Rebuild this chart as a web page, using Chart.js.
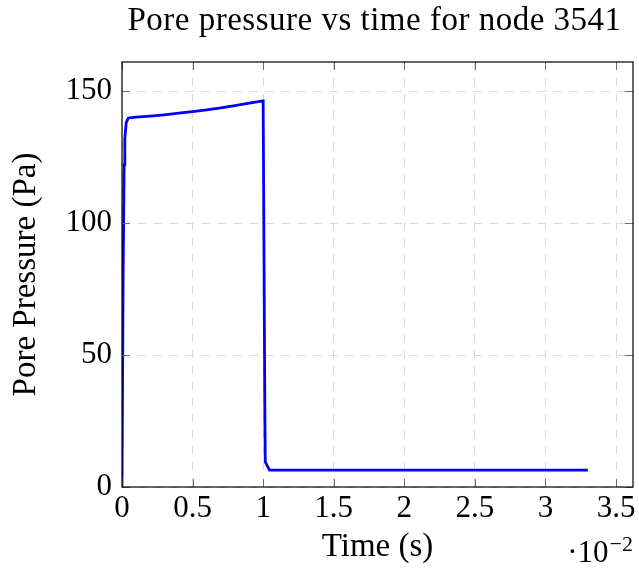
<!DOCTYPE html>
<html>
<head>
<meta charset="utf-8">
<script src="https://cdn.jsdelivr.net/npm/chart.js@4/dist/chart.umd.min.js"></script>
<style>
  html, body { margin: 0; padding: 0; background: #fff; }
  #wrap { width: 639px; height: 571px; }
</style>
</head>
<body>
<div id="wrap"><canvas id="chart"></canvas></div>
<script>
// time in units of 1e-2 s, pressure in Pa
const timeE2 = [0, 0.008, 0.015, 0.02, 0.03, 0.045, 0.1, 0.2, 0.3, 0.4, 0.5, 0.6, 0.7, 0.8, 0.9, 1.0,
  1.012, 1.015, 1.045, 1.5, 2.0, 2.5, 3.0, 3.3];
const pressure = [0, 80, 122, 132, 138, 139.8, 140.1, 140.5, 141.0, 141.6, 142.2, 142.9, 143.6, 144.5, 145.4, 146.3,
  28, 9.5, 6.4, 6.4, 6.4, 6.4, 6.4, 6.4];
const xTicks = [0, 0.5, 1, 1.5, 2, 2.5, 3, 3.5];
const yTicks = [0, 50, 100, 150];
const titleText = 'Pore pressure vs time for node 3541';

const FONT = "'Liberation Serif', 'Times New Roman', serif";
Chart.defaults.font.family = FONT;
Chart.defaults.color = '#000';

const frame = {
  id: 'frame',
  afterDraw(chart) {
    const { ctx, chartArea: a, scales: { x, y } } = chart;
    ctx.save();
    // inner tick marks, pgfplots style
    ctx.strokeStyle = '#6e6e6e';
    ctx.lineWidth = 1;
    ctx.beginPath();
    xTicks.forEach(v => {
      const px = Math.round(x.getPixelForValue(v)) + 0.5;
      ctx.moveTo(px, a.bottom); ctx.lineTo(px, a.bottom - 8);
      ctx.moveTo(px, a.top); ctx.lineTo(px, a.top + 8);
    });
    yTicks.forEach(v => {
      const py = Math.round(y.getPixelForValue(v)) + 0.5;
      ctx.moveTo(a.left, py); ctx.lineTo(a.left + 8, py);
      ctx.moveTo(a.right, py); ctx.lineTo(a.right - 8, py);
    });
    ctx.stroke();
    ctx.strokeStyle = '#000';
    ctx.lineWidth = 1.2;
    ctx.strokeRect(a.left, a.top, a.right - a.left, a.bottom - a.top);

    ctx.fillStyle = '#000';
    ctx.textBaseline = 'alphabetic';
    // title, centred over the plot area
    ctx.textAlign = 'center';
    ctx.font = '33px ' + FONT;
    ctx.letterSpacing = '0.5px';
    ctx.fillText(titleText, (a.left + a.right) / 2 - 3, 30);
    ctx.letterSpacing = '0px';
    // axis multiplier
    ctx.textAlign = 'right';
    ctx.font = '22px ' + FONT;
    ctx.fillText('\u22122', 633, 551);
    const supW = ctx.measureText('\u22122').width;
    ctx.font = '31px ' + FONT;
    ctx.fillText('\u00b710', 633 - supW - 1, 562);
    ctx.restore();
  }
};

new Chart(document.getElementById('chart'), {
  type: 'line',
  data: {
    datasets: [{
      data: timeE2.map((t, i) => ({ x: t, y: pressure[i] })),
      borderColor: '#0000ff',
      borderWidth: 2.8,
      pointRadius: 0,
      tension: 0,
      fill: false
    }]
  },
  options: {
    responsive: true,
    maintainAspectRatio: false,
    animation: false,
    layout: { padding: { left: 0, right: 6, top: 62, bottom: 0 } },
    plugins: {
      legend: { display: false },
      tooltip: { enabled: false },
      title: { display: false }
    },
    scales: {
      x: {
        type: 'linear',
        min: 0,
        max: 3.62,
        afterFit: s => { s.height = 84; },
        afterBuildTicks: s => { s.ticks = xTicks.map(v => ({ value: v })); },
        ticks: {
          font: { size: 31 },
          padding: 3,
          maxRotation: 0,
          callback: v => String(+v.toFixed(2))
        },
        grid: { color: '#d8d8d8', drawTicks: false, lineWidth: 1 },
        border: { display: false, dash: [8, 8] },
        title: {
          display: true,
          text: 'Time (s)',
          font: { size: 33, lineHeight: 1.2 },
          padding: { top: 0, bottom: 3.5 }
        }
      },
      y: {
        min: 0,
        max: 161,
        afterFit: s => { s.width = 122; },
        afterBuildTicks: s => { s.ticks = yTicks.map(v => ({ value: v })); },
        ticks: { font: { size: 31 }, padding: 10 },
        grid: { color: '#d8d8d8', drawTicks: false, lineWidth: 1 },
        border: { display: false, dash: [8, 8] },
        title: {
          display: true,
          text: 'Pore Pressure (Pa)',
          font: { size: 33, lineHeight: 1.2 },
          padding: { top: 6.2, bottom: 0 }
        }
      }
    }
  },
  plugins: [frame]
});
</script>
</body>
</html>
